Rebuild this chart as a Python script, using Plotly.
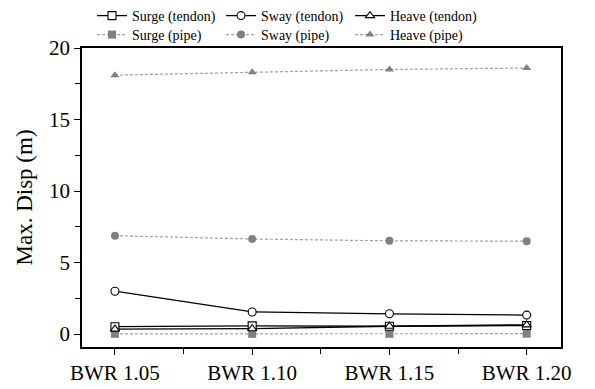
import plotly.graph_objects as go

# Ballast-to-weight ratio cases
categories = ["BWR 1.05", "BWR 1.10", "BWR 1.15", "BWR 1.20"]

# Maximum displacement (m), tendon failure cases
surge_tendon = [0.52, 0.58, 0.55, 0.60]
sway_tendon = [3.0, 1.55, 1.42, 1.33]
heave_tendon = [0.35, 0.38, 0.55, 0.65]

# Maximum displacement (m), pipe failure cases
surge_pipe = [0.02, 0.02, 0.02, 0.03]
sway_pipe = [6.88, 6.65, 6.52, 6.5]
heave_pipe = [18.1, 18.3, 18.5, 18.6]

y_ticks = [0, 5, 10, 15, 20]

FONT = "Times New Roman, Liberation Serif, DejaVu Serif, serif"
xpos = list(range(len(categories)))

fig = go.Figure()

pipe_style = dict(color="#a0a0a0", width=1.2, dash="3px,2px")
for name, vals, sym in [("Surge (pipe)", surge_pipe, "square"),
                        ("Sway (pipe)", sway_pipe, "circle"),
                        ("Heave (pipe)", heave_pipe, "triangle-up")]:
    fig.add_trace(go.Scatter(
        x=xpos, y=vals, name=name, mode="lines+markers",
        line=pipe_style,
        marker=dict(symbol=sym, size=8, color="#808080",
                    line=dict(width=0)),
        legend="legend2"))

for name, vals, sym in [("Surge (tendon)", surge_tendon, "square"),
                        ("Sway (tendon)", sway_tendon, "circle"),
                        ("Heave (tendon)", heave_tendon, "triangle-up")]:
    fig.add_trace(go.Scatter(
        x=xpos, y=vals, name=name, mode="lines+markers",
        line=dict(color="black", width=1.3),
        marker=dict(symbol=sym, size=8, color="white",
                    line=dict(color="black", width=1.1)),
        legend="legend"))

yrange = [-0.9, 20]

legend_common = dict(
    orientation="h", xref="container", yref="container",
    xanchor="left", yanchor="top", entrywidth=84,
    font=dict(size=14, family=FONT), bgcolor="rgba(0,0,0,0)",
    tracegroupgap=0, itemwidth=30,
)

fig.update_layout(
    width=595, height=389,
    margin=dict(l=82, r=34, t=48, b=42, autoexpand=False),
    paper_bgcolor="white", plot_bgcolor="white",
    font=dict(family=FONT, color="black"),
    xaxis=dict(
        range=[-0.24, 3.25], tickmode="array", tickvals=xpos,
        ticktext=categories, ticks="outside", ticklen=6, tickwidth=1.2,
        tickcolor="black", showline=True, linecolor="black", linewidth=1.5,
        mirror=True, showgrid=False, zeroline=False,
        tickfont=dict(size=21, family=FONT),
        minor=dict(tickmode="array", tickvals=[0.5, 1.5, 2.5],
                   ticks="outside", ticklen=5, tickwidth=1.2,
                   tickcolor="black"),
    ),
    yaxis=dict(
        range=yrange, tickmode="array", tickvals=y_ticks,
        ticks="outside", ticklen=6, tickwidth=1.2, tickcolor="black",
        showline=True, linecolor="black", linewidth=1.5, mirror=True,
        showgrid=False, zeroline=False,
        tickfont=dict(size=21, family=FONT),
        title=dict(text="Max. Disp (m)", font=dict(size=23, family=FONT),
                   standoff=10),
        minor=dict(tickmode="array", tickvals=[2.5, 7.5, 12.5, 17.5],
                   ticks="outside", ticklen=5, tickwidth=1.2,
                   tickcolor="black"),
    ),
    yaxis2=dict(
        range=yrange, overlaying="y", side="right", anchor="x",
        tickmode="array", tickvals=y_ticks, ticks="inside", ticklen=6,
        tickwidth=1.2, tickcolor="black", showticklabels=False,
        showline=False, showgrid=False, zeroline=False,
    ),
    legend=dict(legend_common, x=92 / 595, y=1.0),
    legend2=dict(legend_common, x=92 / 595, y=1 - 19 / 389),
    showlegend=True,
)

fig.write_html("out.html")
